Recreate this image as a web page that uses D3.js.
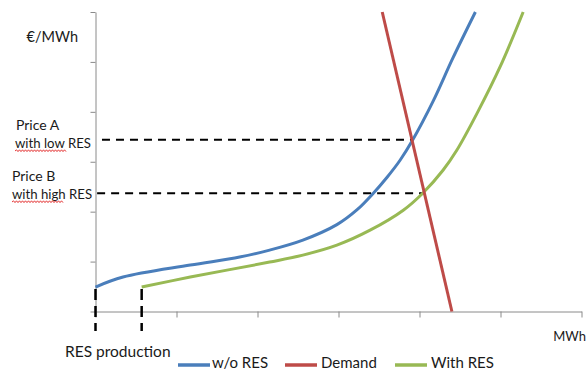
<!DOCTYPE html>
<html>
<head>
<meta charset="utf-8">
<script src="https://cdn.jsdelivr.net/npm/d3@7"></script>
<style>
  html, body { margin: 0; padding: 0; background: #fff; }
  svg { display: block; font-family: Lato, "Open Sans", sans-serif; }
  text { fill: #1a1a1a; }
</style>
</head>
<body>
<svg id="chart" width="587" height="372"></svg>
<script>
// Merit-order supply curves (quantity in MWh, price in €/MWh, arbitrary units)
const supplyWithoutRES = [
  [0.00, 0.49], [0.34, 0.69], [1.17, 0.93], [1.78, 1.09], [2.15, 1.23],
  [2.56, 1.43], [2.98, 1.74], [3.23, 2.04], [3.43, 2.37], [3.60, 2.69],
  [3.76, 3.03], [3.91, 3.42], [4.17, 4.22], [4.41, 5.07], [4.69, 6.00]
];
const supplyWithRES = [
  [0.57, 0.49], [1.17, 0.69], [2.15, 0.99], [2.56, 1.13], [2.98, 1.33],
  [3.39, 1.63], [3.80, 2.03], [4.04, 2.37], [4.29, 2.83], [4.46, 3.23],
  [4.71, 3.97], [5.00, 4.92], [5.28, 6.00]
];
const demand = [[3.54, 6.00], [4.40, 0.00]];

// Clearing prices and the quantities where they are reached
const priceA = 3.44, priceAQty = 3.91;
const priceB = 2.37, priceBQty = 4.06;

// RES production shifts the supply curve to the right
const resProduction = [0.00, 0.57];

const yTicks = [0, 1, 2, 3, 4, 5, 6];
const xTicks = [0, 1, 2, 3, 4, 5, 6];

const legendItems = [
  { name: "w/o RES", color: "#4a7ebb" },
  { name: "Demand",  color: "#be4b48" },
  { name: "With RES", color: "#98b954" }
];

const svg = d3.select("#chart");
const x = d3.scaleLinear().domain([0, 6]).range([95.5, 581.5]);
const y = d3.scaleLinear().domain([0, 6]).range([311.5, 12]);

// Axes: thin grey lines with outward ticks, no numbers
const axisColor = "#8a8a8a";
const gy = svg.append("g").attr("transform", `translate(${x(0)},0)`)
  .call(d3.axisLeft(y).tickValues(yTicks).tickSize(5).tickSizeOuter(0).tickFormat(""));
const gx = svg.append("g").attr("transform", `translate(0,${y(0)})`)
  .call(d3.axisBottom(x).tickValues(xTicks).tickSize(6).tickSizeOuter(0).tickFormat(""));
[gx, gy].forEach(g => {
  g.selectAll("path, line").attr("stroke", axisColor).attr("stroke-width", 1);
});

// Price guides
const guides = [
  { price: priceA, qty: priceAQty, from: 0.08 },
  { price: priceB, qty: priceBQty, from: 0.02 }
];
svg.append("g").selectAll("line").data(guides).join("line")
  .attr("x1", d => x(d.from)).attr("x2", d => x(d.qty))
  .attr("y1", d => y(d.price)).attr("y2", d => y(d.price))
  .attr("stroke", "#000").attr("stroke-width", 2)
  .attr("stroke-dasharray", "8,6");

// RES production markers below the curve starts
svg.append("g").selectAll("line").data(resProduction).join("line")
  .attr("x1", d => x(d)).attr("x2", d => x(d))
  .attr("y1", y(0.45)).attr("y2", y(-0.39))
  .attr("stroke", "#000").attr("stroke-width", 2.5)
  .attr("stroke-dasharray", "11,6");

// Curves
const smooth = d3.line().x(d => x(d[0])).y(d => y(d[1])).curve(d3.curveCatmullRom.alpha(0.5));
const straight = d3.line().x(d => x(d[0])).y(d => y(d[1]));
const series = [
  { data: supplyWithoutRES, color: legendItems[0].color, gen: smooth },
  { data: supplyWithRES, color: legendItems[2].color, gen: smooth },
  { data: demand, color: legendItems[1].color, gen: straight }
];
svg.append("g").selectAll("path").data(series).join("path")
  .attr("d", d => d.gen(d.data))
  .attr("fill", "none")
  .attr("stroke", d => d.color)
  .attr("stroke-width", 3)
  .attr("stroke-linecap", "butt");

// Labels
const labels = [
  { text: "€/MWh", x: 78, y: 42, size: 14.5, anchor: "end" },
  { text: "Price A", x: 16, y: 130, size: 14, anchor: "start" },
  { text: "with low RES", x: 15, y: 148, size: 13.2, anchor: "start" },
  { text: "Price B", x: 12, y: 181, size: 14, anchor: "start" },
  { text: "with high RES", x: 12, y: 199, size: 13.2, anchor: "start" },
  { text: "RES production", x: 65, y: 357, size: 15.5, anchor: "start" },
  { text: "MWh", x: 586, y: 341, size: 13, anchor: "end" }
];
svg.append("g").selectAll("text").data(labels).join("text")
  .attr("x", d => d.x).attr("y", d => d.y)
  .attr("font-size", d => d.size)
  .attr("text-anchor", d => d.anchor)
  .text(d => d.text);

// Spell-check style wavy underlines
function wavy(x0, x1, yy) {
  let p = `M${x0},${yy}`;
  let up = true;
  for (let xx = x0 + 1.5; xx <= x1; xx += 1.5) {
    p += `L${xx},${yy + (up ? -1.2 : 0.6)}`;
    up = !up;
  }
  return p;
}
const squiggles = [[15, 66, 151], [12, 64, 202]];
svg.append("g").selectAll("path").data(squiggles).join("path")
  .attr("d", d => wavy(d[0], d[1], d[2]))
  .attr("fill", "none").attr("stroke", "#e02020").attr("stroke-width", 0.9);

// Legend
const legendPos = [
  { lx: 178, tx: 212 },
  { lx: 285, tx: 321 },
  { lx: 395, tx: 431 }
];
const lg = svg.append("g").selectAll("g").data(legendItems).join("g");
lg.append("line")
  .attr("x1", (d, i) => legendPos[i].lx).attr("x2", (d, i) => legendPos[i].lx + 32)
  .attr("y1", 365).attr("y2", 365)
  .attr("stroke", d => d.color).attr("stroke-width", 3.5);
lg.append("text")
  .attr("x", (d, i) => legendPos[i].tx).attr("y", 368)
  .attr("font-size", 15)
  .text(d => d.name);
</script>
</body>
</html>
